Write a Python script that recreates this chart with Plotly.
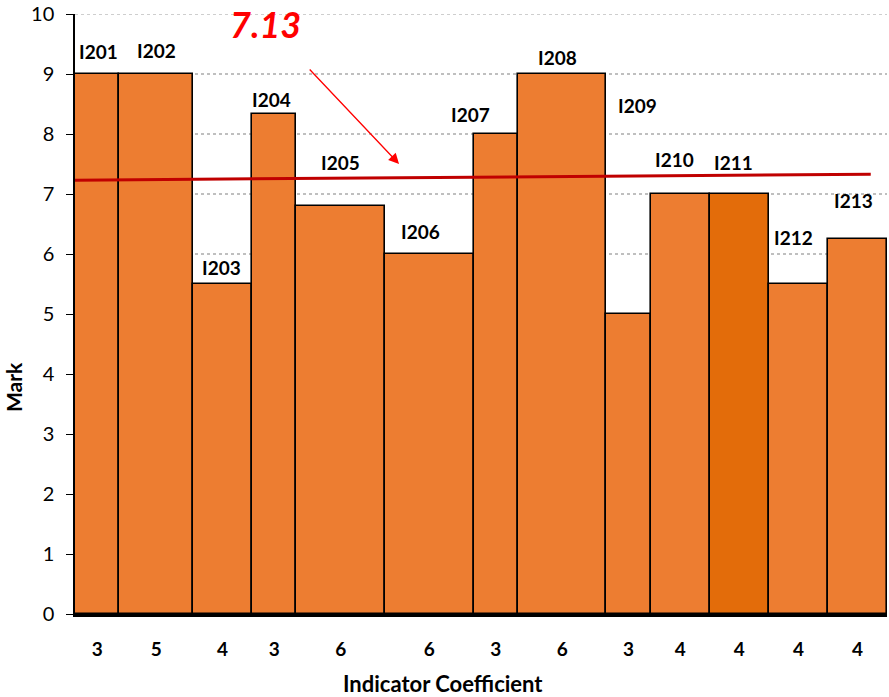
import plotly.graph_objects as go
import numpy as np

# ---- data ----
indicators = ["I201", "I202", "I203", "I204", "I205", "I206", "I207",
              "I208", "I209", "I210", "I211", "I212", "I213"]
coefficients = [3, 5, 4, 3, 6, 6, 3, 6, 3, 4, 4, 4, 4]
marks = [9, 9, 5.5, 8.33, 6.8, 6, 8, 9, 5, 7, 7, 5.5, 6.25]
mean_label = "7.13"
trend_x = [0, 53.9]
trend_y = [7.23, 7.33]
y_max = 10

# ---- styling (positions of labels, offsets in data units) ----
label_dx = [0.1, 0.0, -0.1, -0.2, 0.0, -0.6, -1.7, -0.3, 0.6, -0.4, -0.4, -0.3, -0.3]
label_y = [9.37, 9.4, 5.78, 8.57, 7.52, 6.38, 8.33, 9.28, 8.47, 7.57, 7.53, 6.27, 6.9]
colors = ["#ED7D31"] * len(marks)
colors[10] = "#E36C0A"

widths = np.array(coefficients, dtype=float)
edges = np.concatenate([[0], np.cumsum(widths)])
centers = (edges[:-1] + edges[1:]) / 2
total = edges[-1]

FONT = "Lato"
GRID = "#BFBFBF"

fig = go.Figure()
fig.add_trace(go.Bar(
    x=centers, y=marks, width=widths,
    marker=dict(color=colors, line=dict(color="black", width=1.6)),
    hoverinfo="skip", showlegend=False,
))
fig.add_trace(go.Scatter(
    x=trend_x, y=trend_y, mode="lines",
    line=dict(color="#C00000", width=3), showlegend=False, hoverinfo="skip",
))

# top gridline (at the range edge)
fig.add_shape(type="line", xref="paper", yref="y", x0=0, x1=1, y0=y_max, y1=y_max,
              line=dict(color=GRID, width=1.5, dash="dot"), layer="below")

annotations = []
for name, cx, dx, ly in zip(indicators, centers, label_dx, label_y):
    annotations.append(dict(
        x=cx + dx, y=ly, xref="x", yref="y", text=f"<b>{name}</b>",
        showarrow=False, font=dict(family=FONT, size=19, color="black"),
        xanchor="center", yanchor="middle",
    ))

# 7.13 label
annotations.append(dict(
    x=12.9, y=9.83, xref="x", yref="y", text=f"<b><i>{mean_label}</i></b>",
    showarrow=False, font=dict(family=FONT, size=36, color="#FF0000"),
    xanchor="center", yanchor="middle",
))
# arrow
annotations.append(dict(
    x=21.95, y=7.5, ax=15.8, ay=9.1, xref="x", yref="y", axref="x", ayref="y",
    text="", showarrow=True, arrowhead=2, arrowsize=1.6, arrowwidth=1.3,
    arrowcolor="#FF0000", standoff=0, startstandoff=0,
))
# axis titles (pixel positions converted to paper coords below)
annotations.append(dict(
    x=443, y=683, xref="paper", yref="paper", text="<b>Indicator Coefficient</b>",
    showarrow=False, font=dict(family=FONT, size=22, color="black"),
    xanchor="center", yanchor="middle",
))
annotations.append(dict(
    x=13, y=387, xref="paper", yref="paper", text="<b>Mark</b>", textangle=-90,
    showarrow=False, font=dict(family=FONT, size=21, color="black"),
    xanchor="center", yanchor="middle",
))

W, H = 889, 697
L, R, T, B = 75, 2, 14, 83
pw, ph = W - L - R, H - T - B
for a in annotations[-2:]:
    a["x"] = (a["x"] - L) / pw
    a["y"] = 1 - (a["y"] - T) / ph

fig.update_layout(
    width=W, height=H,
    margin=dict(l=L, r=R, t=T, b=B, pad=0),
    plot_bgcolor="white", paper_bgcolor="white",
    bargap=0,
    annotations=annotations,
    font=dict(family=FONT, color="black"),
    xaxis=dict(
        range=[0, total], showgrid=False, zeroline=False,
        tickvals=centers, ticktext=[f"<b>{c}</b>" for c in coefficients],
        tickfont=dict(family=FONT, size=19, color="black"),
        ticks="", ticklabelstandoff=16,
        showline=True, linecolor="black", linewidth=3,
    ),
    yaxis=dict(
        range=[0, y_max], dtick=1, showgrid=True, gridcolor=GRID,
        griddash="dot", gridwidth=1.5, zeroline=False,
        ticks="outside", ticklen=7, tickcolor="black", tickwidth=1.3,
        tickfont=dict(family=FONT, size=20, color="black"),
        ticklabelstandoff=8,
        showline=True, linecolor="black", linewidth=1.5,
    ),
)

fig.write_html("out.html", config={"displayModeBar": False},
               post_script="document.body.style.margin='0';document.body.style.overflow='hidden';")
